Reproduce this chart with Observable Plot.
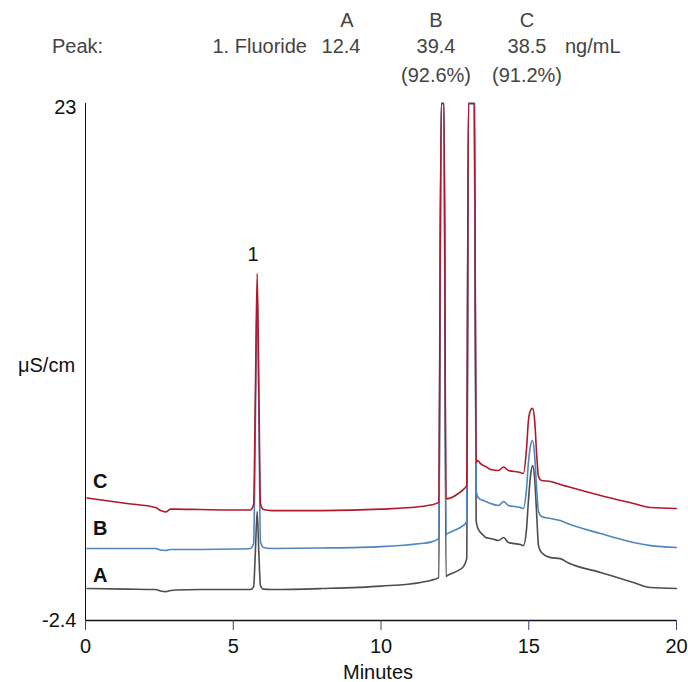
<!DOCTYPE html>
<html><head><meta charset="utf-8">
<script src="https://cdn.jsdelivr.net/npm/d3@7"></script>
<script src="https://cdn.jsdelivr.net/npm/@observablehq/plot@0.6"></script>
<style>
html,body{margin:0;padding:0;background:#fff;}
#wrap{position:relative;width:688px;height:682px;font-family:"Liberation Sans",Arial,Helvetica,sans-serif;font-size:20px;overflow:hidden;}
#wrap .t{position:absolute;white-space:nowrap;line-height:20px;color:#444;}
#wrap .k{color:#111;}
#chart{position:absolute;left:0;top:0;}
</style></head><body>
<div id="wrap"><div id="chart"></div></div>
<script>
// Retention time (minutes), shared by the three traces
const time = [0.05, 1.4, 2.37, 2.54, 2.71, 2.88, 3.05, 3.9, 5.0, 5.58,
  5.69, 5.75, 5.81, 5.87, 5.92, 6.02, 6.3, 8.0, 10.0, 11.34,
  11.68, 11.95, 12.04, 12.13, 12.2, 12.25, 12.62, 12.79, 12.9, 12.96,
  13.16, 13.22, 13.27, 13.37, 13.47, 13.54, 13.71, 13.98, 14.15, 14.31,
  14.72, 14.82, 14.92, 14.99, 15.06, 15.13, 15.2, 15.27, 15.33, 15.43,
  15.74, 16.07, 16.31, 17.43, 18.54, 19.12, 20.0];
// Conductivity (µS/cm) for each trace
const traceA = [-0.83, -0.86, -0.88, -0.95, -0.98, -0.93, -0.90, -0.88, -0.88, -0.88,
  -0.73, 1.04, 2.95, 0.79, -0.68, -0.86, -0.88, -0.83, -0.71, -0.53,
  -0.43, -0.29, 23, 23, -0.24, -0.19, 0.06, 0.25, 0.64, 23,
  23, 2.51, 2.17, 1.92, 1.78, 1.68, 1.63, 1.53, 1.68, 1.43,
  1.33, 1.28, 2.02, 3.50, 4.72, 5.21, 4.58, 2.76, 1.28, 0.94,
  0.69, 0.64, 0.45, -0.04, -0.53, -0.78, -0.83];
const traceB = [1.14, 1.14, 1.14, 1.06, 1.04, 1.09, 1.09, 1.09, 1.11, 1.14,
  1.38, 7.43, 13.81, 7.43, 1.48, 1.19, 1.14, 1.16, 1.23, 1.38,
  1.45, 1.63, 23, 23, 1.82, 1.87, 2.12, 2.27, 2.46, 23,
  23, 3.99, 3.69, 3.54, 3.50, 3.45, 3.35, 3.25, 3.45, 3.25,
  3.15, 3.10, 3.99, 5.36, 6.20, 6.44, 5.71, 3.99, 2.95, 2.71,
  2.61, 2.51, 2.37, 1.87, 1.43, 1.28, 1.19];
const traceC = [3.62, 3.35, 3.15, 3.00, 2.93, 3.07, 3.07, 3.05, 3.03, 3.03,
  3.30, 8.90, 14.65, 8.41, 3.35, 3.05, 3.00, 3.00, 3.07, 3.20,
  3.27, 3.40, 23, 23, 3.59, 3.59, 3.84, 4.04, 4.23, 23,
  23, 5.36, 5.46, 5.31, 5.21, 5.17, 5.02, 4.97, 5.14, 4.97,
  4.87, 4.82, 5.95, 7.43, 7.92, 8.02, 7.43, 5.71, 4.67, 4.48,
  4.43, 4.28, 4.18, 3.74, 3.35, 3.15, 3.10];
const traceNames = ["A", "B", "C"];
const traceColors = ["#4d4d4d", "#4f86c0", "#b2182b"];
const xTicks = [0, 5, 10, 15, 20];
const yTicks = [-2.4, 23];
const peakLabels = [{label: "1", time: 5.81}];
// Header table
const headerCols = ["A", "B", "C"];
const headerConc = ["12.4", "39.4", "38.5"];
const headerRec = ["", "(92.6%)", "(91.2%)"];
const peakName = "1. Fluoride";
const unitText = "ng/mL";

const traces = [traceA, traceB, traceC];
const rows = [];
traces.forEach((tr, k) => time.forEach((t, i) => rows.push({t, v: tr[i], series: traceNames[k]})));
const starts = traces.map((tr, k) => ({t: time[0], v: tr[0], series: traceNames[k]}));
const labelDy = {A: -13, B: -20, C: -16};
const peakRows = peakLabels.map(p => {
  const i = time.indexOf(p.time);
  return {label: p.label, t: p.time, v: traceC[i]};
});

const chart = Plot.plot({
  width: 688, height: 682,
  marginTop: 103, marginBottom: 62, marginLeft: 85, marginRight: 12,
  style: {fontFamily: '"Liberation Sans", Arial, sans-serif', fontSize: "20px", background: "white", color: "#111"},
  x: {domain: [0, 20]},
  y: {domain: [-2.4, 23]},
  color: {domain: traceNames, range: traceColors},
  marks: [
    Plot.line(rows, {x: "t", y: "v", z: "series", stroke: "series", curve: "monotone-x", strokeWidth: 1.6}),
    Plot.ruleX([0], {y1: -2.4, y2: 23, stroke: "#111", strokeWidth: 1}),
    Plot.ruleY([-2.4], {x1: 0, x2: 20, stroke: "#111", strokeWidth: 1.5}),
    Plot.axisX({ticks: xTicks, tickSize: 10, tickPadding: 8, stroke: "#3b3b78", fill: "#111", label: null, tickFormat: d => String(d)}),
    Plot.axisY({ticks: yTicks.filter(d => d > 0), tickSize: 0, tickPadding: 9, dy: 4, fill: "#111", label: null, tickFormat: d => String(d)}),
    Plot.axisY({ticks: yTicks.filter(d => d < 0), tickSize: 0, tickPadding: 9, fill: "#111", label: null, tickFormat: d => String(d)}),
    ...traceNames.map(s => Plot.text(starts.filter(d => d.series === s), {x: "t", y: "v", text: "series", dx: 6, dy: labelDy[s], textAnchor: "start", fontWeight: "bold", fill: "#111"})),
    Plot.text(peakRows, {x: "t", y: "v", text: "label", dx: -4, dy: -19, fill: "#111"})
  ]
});
document.getElementById("chart").appendChild(chart);

const wrap = document.getElementById("wrap");
function addText(txt, x, y, anchor, cls) {
  const d = document.createElement("div");
  d.className = "t" + (cls ? " " + cls : "");
  d.textContent = txt;
  d.style.top = (y - 10) + "px";
  if (anchor === "middle") { d.style.left = x + "px"; d.style.transform = "translateX(-50%)"; }
  else if (anchor === "end") { d.style.right = (688 - x) + "px"; }
  else { d.style.left = x + "px"; }
  wrap.appendChild(d);
}
const colCenters = [347, 436, 527];
headerCols.forEach((c, i) => addText(c, colCenters[i], 20, "middle"));
addText("Peak:", 52, 46, "start");
addText(peakName, 307, 46, "end");
headerConc.forEach((c, i) => addText(c, colCenters[i] - (i === 0 ? 6 : 0), 46, "middle"));
addText(unitText, 565, 46, "start");
headerRec.forEach((c, i) => { if (c) addText(c, colCenters[i], 75, "middle"); });
addText("μS/cm", 18, 365, "start", "k");
addText("Minutes", 378, 672, "middle", "k");
</script>
</body></html>
